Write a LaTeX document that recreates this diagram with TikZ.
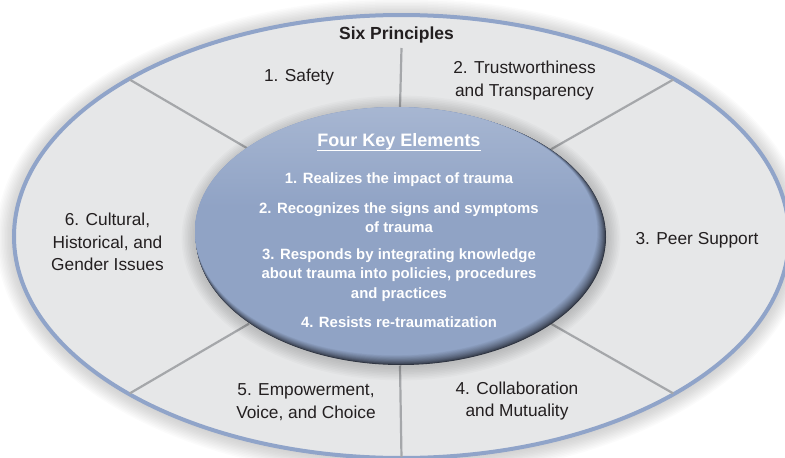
\documentclass[tikz,border=0pt]{standalone}
\usepackage{fontspec}
\setmainfont{Liberation Sans}
\usetikzlibrary{shapes.geometric}
\definecolor{outerfill}{HTML}{E6E7E8}
\definecolor{outerline}{HTML}{90A4C9}
\definecolor{divline}{HTML}{A5A7AA}
\definecolor{innerblue}{HTML}{90A3C5}
\definecolor{innerlight}{HTML}{B6C3DA}
\definecolor{innerdark}{HTML}{2B303C}
\definecolor{txt}{HTML}{231F20}
\pgfdeclareverticalshading{innershade}{100bp}{color(0bp)=(innerblue); color(55bp)=(innerblue); color(88bp)=(innerlight); color(100bp)=(innerlight)}
\tikzset{
  lab/.style={font=\fontsize{17.3}{22.5}\selectfont, text=txt, align=center, inner sep=0pt},
  keyel/.style={font=\bfseries\fontsize{14.9}{19.5}\selectfont, text=white, align=center, inner sep=0pt},
  divider/.style={draw=divline, line width=2.2pt},
  ring/.style={ellipse, inner sep=0pt, outer sep=0pt}
}
\begin{document}
\begin{tikzpicture}[x=1pt,y=-1pt]
\useasboundingbox (0,0) rectangle (785,458);
\clip (0,0) rectangle (785,458);
% soft shadow of the outer ellipse
\foreach \k in {1,...,12}{
  \pgfmathsetmacro\rx{387.5+\k*1.5}
  \pgfmathsetmacro\ry{221.5+\k*1.5}
  \fill[black,opacity=0.016] (401.5,238) ellipse [x radius=\rx pt, y radius=\ry pt];
}
% outer ellipse
\node[ring, minimum width=775pt, minimum height=443pt, fill=outerfill, draw=outerline, line width=4pt] (outer) at (401.5,236.5) {};
% anchor ellipse for the inner element
\node[ring, minimum width=410pt, minimum height=258pt] (inner) at (400,236.5) {};
\coordinate (topend) at (401.5,48);
% dividers
\draw[divider] (inner.90) -- (topend);
\draw[divider, shorten >=1pt] (inner.30) -- (outer.30);
\draw[divider, shorten >=1pt] (inner.150) -- (outer.150);
\draw[divider, shorten >=1pt] (inner.210) -- (outer.210);
\draw[divider, shorten >=1pt] (inner.330) -- (outer.330);
\draw[divider, shorten >=1pt] (inner.270) -- (outer.270);
% halo of the inner ellipse
\foreach \k in {1,...,9}{
  \pgfmathsetmacro\rx{205+\k*1.6}
  \pgfmathsetmacro\ry{128+\k*1.6}
  \fill[black,opacity=0.02] (401,238) ellipse [x radius=\rx pt, y radius=\ry pt];
}
% inner ellipse: dark rim blending into blue
\foreach \k in {0,...,18}{
  \pgfmathsetmacro\t{\k/18}
  \pgfmathsetmacro\mix{100*(\t^0.7)}
  \pgfmathsetmacro\cx{401-5*\t}
  \pgfmathsetmacro\cy{237-6*\t}
  \pgfmathsetmacro\rx{205-4*\t}
  \pgfmathsetmacro\ry{128-4*\t}
  \fill[innerblue!\mix!innerdark] (\cx,\cy) ellipse [x radius=\rx pt, y radius=\ry pt];
}
\shade[shading=innershade] (396,231) ellipse [x radius=201pt, y radius=124pt];
% texts
\node[font=\bfseries\fontsize{17.5}{20}\selectfont, text=txt, inner sep=0pt] (title) at (396.5,35) {Six Principles};
\node[lab] (p1) at (299,77) {1. Safety};
\node[lab] (p2) at (524.5,80.5) {2. Trustworthiness\\and Transparency};
\node[lab] (p3) at (697,240) {3. Peer Support};
\node[lab] (p4) at (517,401) {4. Collaboration\\and Mutuality};
\node[lab] (p5) at (306,402) {5. Empowerment,\\Voice, and Choice};
\node[lab] (p6) at (107.5,242) {6. Cultural,\\Historical, and\\Gender Issues};
\node[font=\bfseries\fontsize{18}{20}\selectfont, text=white, inner sep=0pt] (k0) at (399,142) {Four Key Elements};
\draw[white, line width=1.4pt] ([yshift=-4pt]k0.base west) -- ([yshift=-4pt]k0.base east);
\node[keyel] (k1) at (399,180) {1. Realizes the impact of trauma};
\node[keyel] (k2) at (399,217.5) {2. Recognizes the signs and symptoms\\of trauma};
\node[keyel] (k3) at (399,275) {3. Responds by integrating knowledge\\about trauma into policies, procedures\\and practices};
\node[keyel] (k4) at (399,322) {4. Resists re-traumatization};
\end{tikzpicture}
\end{document}
